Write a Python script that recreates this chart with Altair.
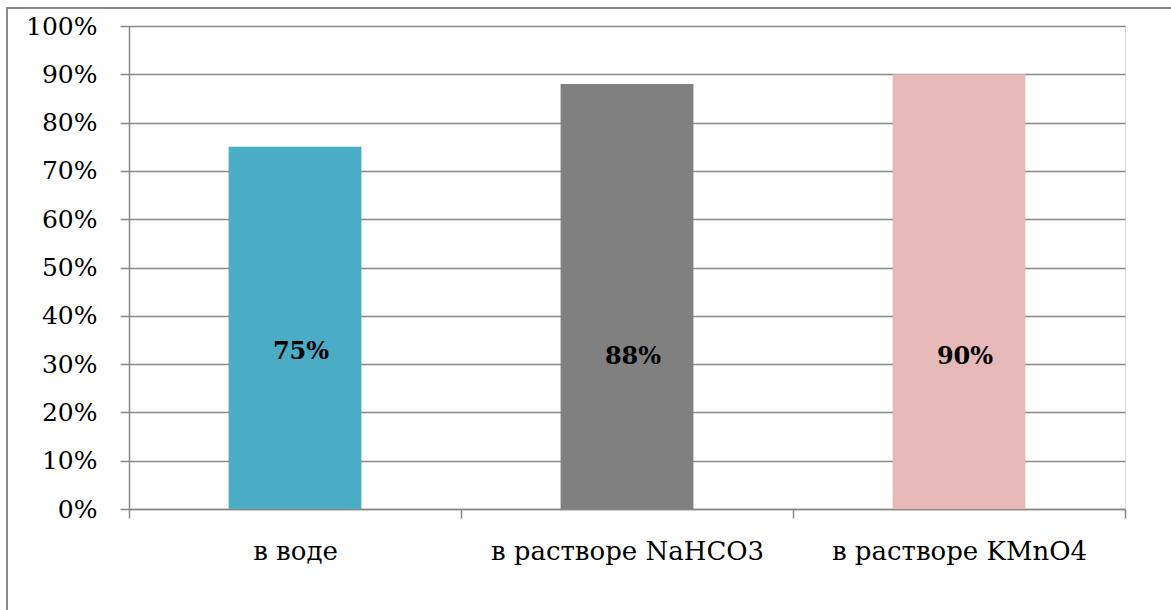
import altair as alt
import pandas as pd

categories = ["в воде", "в растворе NaHCO3", "в растворе KMnO4"]
shares = [0.75, 0.88, 0.90]
colors = ["#4BACC6", "#808080", "#E6B9B8"]
label_levels = [0.325, 0.315, 0.315]

df = pd.DataFrame({
    "cat": categories,
    "share": shares,
    "label": [f"{round(v * 100)}%" for v in shares],
    "level": label_levels,
})

FONT = "DejaVu Serif"
W, H = 996, 483

x = alt.X("cat:N", sort=categories, title=None,
          scale=alt.Scale(paddingInner=0, paddingOuter=0),
          axis=alt.Axis(labelAngle=0, labelFont=FONT, labelFontSize=26,
                        labelColor="#000", labelPadding=20, labelLimit=0,
                        tickBand="extent", tickSize=9, tickColor="#888",
                        tickWidth=1.5, domainColor="#888", domainWidth=1.5,
                        grid=False))

bars = alt.Chart(df).mark_bar(width=alt.RelativeBandSize(0.4)).encode(
    x=x,
    y=alt.Y("share:Q", title=None,
            scale=alt.Scale(domain=[0, 1]),
            axis=alt.Axis(format=".0%", values=[i / 10 for i in range(11)],
                          labelFont=FONT, labelFontSize=25, labelColor="#000",
                          labelPadding=23, tickSize=9, tickColor="#888",
                          tickWidth=1.5, domainColor="#888", domainWidth=1.5,
                          gridColor="#888", gridWidth=1.5)),
    color=alt.Color("cat:N", sort=categories,
                    scale=alt.Scale(domain=categories, range=colors),
                    legend=None),
)

labels = alt.Chart(df).mark_text(font=FONT, fontSize=24, fontWeight="bold",
                                 color="#000", dx=6).encode(
    x=alt.X("cat:N", sort=categories),
    y=alt.Y("level:Q"),
    text="label:N",
)

frame = alt.Chart(df).mark_rect(fill=None, stroke="#888", strokeWidth=1.5,
                                clip=False).encode(
    x=alt.value(-122), x2=alt.value(W + 200),
    y=alt.value(-18), y2=alt.value(H + 200),
)

chart = alt.layer(frame, bars, labels).properties(
    width=W, height=H,
    autosize=alt.AutoSizeParams(type="none"),
    padding={"left": 129, "top": 26, "right": 46, "bottom": 101},
).configure_view(stroke=None).configure(background="#ffffff")

chart.save("out.html", embed_options={"renderer": "svg", "actions": False})
